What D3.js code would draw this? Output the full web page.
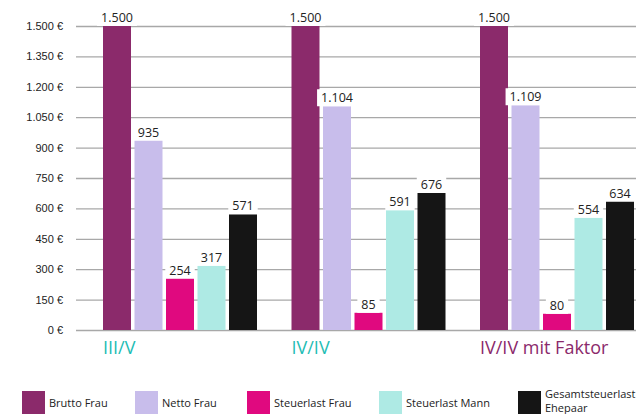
<!DOCTYPE html>
<html>
<head>
<meta charset="utf-8">
<script src="https://cdn.jsdelivr.net/npm/d3@7"></script>
<style>
  body { margin: 0; background: #fff; }
  svg { display: block; font-family: "Open Sans", "Noto Sans", sans-serif; }
</style>
</head>
<body>
<svg width="636" height="414"></svg>
<script>
// chart data
var categories = ["III/V", "IV/IV", "IV/IV mit Faktor"];
var categoryColors = ["#1fbdb5", "#1fbdb5", "#8b2a6b"];
var seriesNames = ["Brutto Frau", "Netto Frau", "Steuerlast Frau", "Steuerlast Mann", "Gesamtsteuerlast Ehepaar"];
var seriesColors = ["#8b2a6b", "#c8bdeb", "#e0097f", "#aeeae4", "#151515"];
var bruttoFrau = [1500, 1500, 1500];
var nettoFrau = [935, 1104, 1109];
var steuerFrau = [254, 85, 80];
var steuerMann = [317, 591, 554];
var gesamtSteuer = [571, 676, 634];
var yTicks = [0, 150, 300, 450, 600, 750, 900, 1050, 1200, 1350, 1500];

var seriesValues = [bruttoFrau, nettoFrau, steuerFrau, steuerMann, gesamtSteuer];

var de = d3.formatLocale({decimal: ",", thousands: ".", grouping: [3], currency: ["", " €"]});
var fmt = de.format(",d");

var svg = d3.select("svg");

var gridLeft = 76, gridRight = 636;

var y = d3.scaleLinear()
    .domain([0, 1500])
    .range([330, 26]);

var x0 = d3.scaleBand()
    .domain(categories)
    .range([103, 634])
    .paddingInner(34.5 / 188.5)
    .paddingOuter(0);

var x1 = d3.scaleBand()
    .domain(seriesNames)
    .range([0, x0.bandwidth()])
    .paddingInner(3.5 / 31.5)
    .paddingOuter(0);

// grid lines + y labels
var yAxis = d3.axisLeft(y)
    .tickValues(yTicks)
    .tickSize(-(gridRight - gridLeft))
    .tickPadding(13)
    .tickFormat(function(d) { return fmt(d) + " €"; });

var axisG = svg.append("g")
    .attr("transform", "translate(" + gridLeft + ",0)")
    .call(yAxis);
axisG.select(".domain").remove();
axisG.selectAll(".tick line")
    .attr("stroke", "#a8a8a8")
    .attr("stroke-width", 1.3);
axisG.selectAll(".tick text")
    .attr("fill", "#222")
    .style("font-size", "11px");

// bars
var rows = [];
categories.forEach(function(c, i) {
  seriesNames.forEach(function(s, j) {
    rows.push({cat: c, series: s, value: seriesValues[j][i], color: seriesColors[j]});
  });
});

var groups = svg.append("g");
groups.selectAll("rect.bar")
    .data(rows)
    .enter().append("rect")
    .attr("class", "bar")
    .attr("x", function(d) { return x0(d.cat) + x1(d.series); })
    .attr("y", function(d) { return y(d.value); })
    .attr("width", x1.bandwidth())
    .attr("height", function(d) { return y(0) - y(d.value); })
    .attr("fill", function(d) { return d.color; });

// value labels with white background
var labels = svg.append("g").selectAll("g.lbl")
    .data(rows)
    .enter().append("g")
    .attr("class", "lbl");

labels.append("text")
    .attr("x", function(d) { return x0(d.cat) + x1(d.series) + x1.bandwidth() / 2; })
    .attr("y", function(d) { return y(d.value) - 4; })
    .attr("text-anchor", "middle")
    .attr("fill", "#222")
    .style("font-size", "12.5px")
    .text(function(d) { return fmt(d.value); });

labels.each(function() {
  var g = d3.select(this);
  var bb = g.select("text").node().getBBox();
  g.insert("rect", "text")
      .attr("x", bb.x - 4)
      .attr("y", bb.y)
      .attr("width", bb.width + 8)
      .attr("height", bb.height)
      .attr("fill", "#fff");
});

// category labels
svg.append("g").selectAll("text")
    .data(categories)
    .enter().append("text")
    .attr("x", function(d) { return x0(d); })
    .attr("y", 354)
    .attr("fill", function(d, i) { return categoryColors[i]; })
    .style("font-size", "18px")
    .text(function(d) { return d; });

// legend
var legendX = [22, 135, 247, 379, 518];
var legend = svg.append("g").selectAll("g")
    .data(seriesNames)
    .enter().append("g")
    .attr("transform", function(d, i) { return "translate(" + legendX[i] + ",391)"; });

legend.append("rect")
    .attr("width", 23)
    .attr("height", 23)
    .attr("fill", function(d, i) { return seriesColors[i]; });

legend.append("text")
    .attr("x", 27)
    .attr("fill", "#222")
    .style("font-size", "11px")
    .each(function(d, i) {
      var t = d3.select(this);
      if (i === 4) {
        // two-line label, second line runs into the bottom edge like the original
        t.append("tspan").attr("x", 27).attr("y", 7).text("Gesamtsteuerlast");
        t.append("tspan").attr("x", 27).attr("y", 21).text("Ehepaar");
      } else {
        t.attr("y", 16).text(d);
      }
    });
</script>
</body>
</html>
